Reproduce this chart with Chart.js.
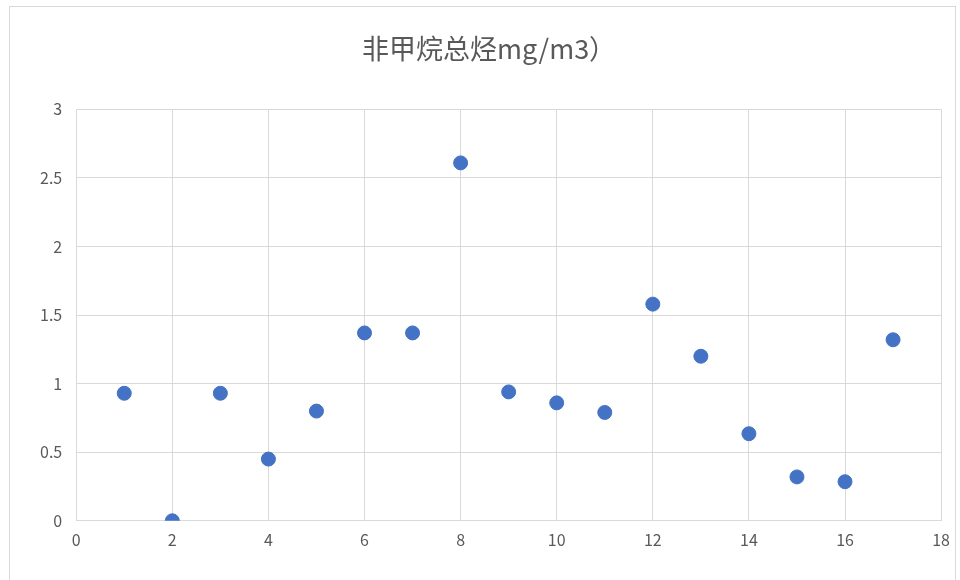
<!DOCTYPE html>
<html>
<head>
<meta charset="utf-8">
<script src="https://cdn.jsdelivr.net/npm/chart.js@4"></script>
<style>
  body { margin: 0; background: #fff; }
  #wrap { width: 960px; height: 580px; position: relative; }
</style>
</head>
<body>
<div id="wrap"><canvas id="chart"></canvas></div>
<script>
// sample number and measured value
const sampleNo = [1, 2, 3, 4, 5, 6, 7, 8, 9, 10, 11, 12, 13, 14, 15, 16, 17];
const nmhcValues = [0.93, 0, 0.93, 0.45, 0.8, 1.37, 1.37, 2.61, 0.94, 0.86, 0.79, 1.58, 1.2, 0.635, 0.32, 0.285, 1.32];
const chartTitle = '非甲烷总烃mg/m3）';

const points = sampleNo.map((x, i) => ({ x: x, y: nmhcValues[i] }));

// light frame around the whole chart, like the Excel chart area
const frame = {
  id: 'frame',
  beforeDraw(chart) {
    const ctx = chart.ctx;
    ctx.save();
    ctx.strokeStyle = '#d9d9d9';
    ctx.lineWidth = 1;
    ctx.strokeRect(9.5, 6.5, 946, 600);
    ctx.restore();
  }
};

const font = "'Microsoft YaHei', 'Noto Sans CJK SC', 'DejaVu Sans', sans-serif";

new Chart(document.getElementById('chart'), {
  type: 'scatter',
  data: {
    datasets: [{
      label: chartTitle,
      data: points,
      backgroundColor: '#4472c4',
      borderColor: '#4472c4',
      pointRadius: 7,
      pointHoverRadius: 7
    }]
  },
  options: {
    responsive: true,
    maintainAspectRatio: false,
    animation: false,
    layout: { padding: { left: 26, right: 8, top: 25, bottom: 20 } },
    plugins: {
      legend: { display: false },
      tooltip: { enabled: false },
      title: {
        display: true,
        text: chartTitle,
        color: '#595959',
        font: { family: font, size: 27, weight: 'normal' },
        padding: { top: 8, bottom: 44 }
      }
    },
    scales: {
      x: {
        type: 'linear',
        min: 0,
        max: 18,
        ticks: { stepSize: 2, color: '#595959', font: { family: font, size: 16 }, padding: 10 },
        grid: { color: '#d9d9d9', drawTicks: false },
        border: { color: '#d9d9d9' }
      },
      y: {
        min: 0,
        max: 3,
        ticks: {
          stepSize: 0.5,
          color: '#595959',
          font: { family: font, size: 16 },
          padding: 14,
          callback: v => String(v)
        },
        grid: { color: '#d9d9d9', drawTicks: false },
        border: { color: '#d9d9d9' }
      }
    }
  },
  plugins: [frame]
});
</script>
</body>
</html>
